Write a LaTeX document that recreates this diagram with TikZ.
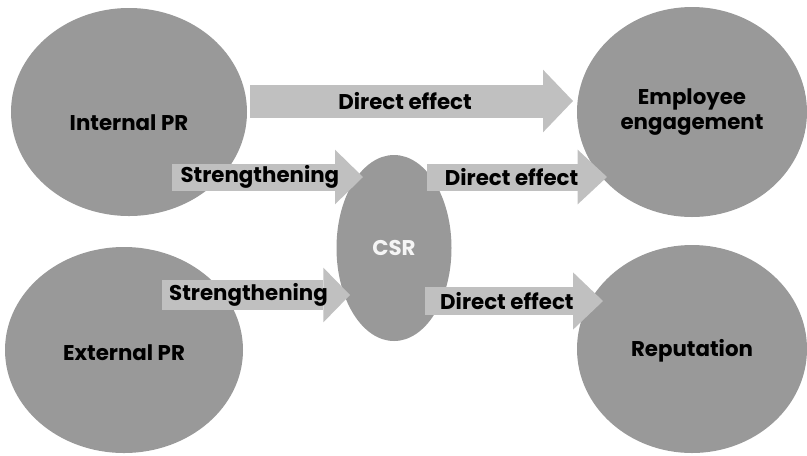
\documentclass[tikz,border=0pt]{standalone}
\usepackage{fontspec}
\setmainfont{Poppins}
\usetikzlibrary{shapes.geometric,arrows.meta}
\begin{document}
\begin{tikzpicture}[x=0.75pt, y=-0.75pt, line cap=butt,
  font=\fontsize{16}{18.5}\selectfont\bfseries,
  blob/.style={ellipse, fill=blobgray, inner sep=0pt, align=center},
  fatarrow/.style={draw=arrowgray, line width=#1*0.75pt},
  lbl/.style={inner sep=0pt, anchor=center}]
  \definecolor{blobgray}{RGB}{153,153,153}
  \definecolor{arrowgray}{RGB}{192,192,192}
  \useasboundingbox (0,0) rectangle (807,455);
  \node[blob, minimum width=236*0.75pt, minimum height=208*0.75pt,
    label={[lbl, yshift=-8pt]center:Internal PR}] (ipr) at (129,112) {};
  \node[blob, minimum width=230*0.75pt, minimum height=210*0.75pt] (eng) at (692,112) {Employee\\engagement};
  \node[blob, minimum width=238*0.75pt, minimum height=206*0.75pt,
    label={[lbl, yshift=-2pt]center:External PR}] (epr) at (124,350) {};
  \node[blob, minimum width=230*0.75pt, minimum height=208*0.75pt,
    label={[lbl, yshift=-1pt]center:Reputation}] (rep) at (692,349) {};
  \node[blob, minimum width=115*0.75pt, minimum height=186*0.75pt, text=white!92!gray] (csr) at (394,248) {CSR};
  \coordinate (a1s) at (250,101);  \coordinate (a1e) at (573,101);
  \coordinate (a2s) at (172,177);  \coordinate (a2e) at (363,177);
  \coordinate (a3s) at (427,177);  \coordinate (a3e) at (607,177);
  \coordinate (a4s) at (162,295);  \coordinate (a4e) at (350,295);
  \coordinate (a5s) at (425,301);  \coordinate (a5e) at (603,301);
  \draw[fatarrow=33, -{Triangle[width=47pt, length=22.5pt, line width=0pt]}]
    (a1s) -- node[lbl, pos=0.48] {Direct effect} (a1e);
  \draw[fatarrow=27, -{Triangle[width=41pt, length=21pt, line width=0pt]}]
    (a2s) -- node[lbl, pos=0.46] {Strengthening} (a2e);
  \draw[fatarrow=27, -{Triangle[width=41pt, length=22pt, line width=0pt]}]
    (a3s) -- node[lbl, pos=0.47] {Direct effect} (a3e);
  \draw[fatarrow=30, -{Triangle[width=41pt, length=20pt, line width=0pt]}]
    (a4s) -- node[lbl, pos=0.46] {Strengthening} (a4e);
  \draw[fatarrow=28, -{Triangle[width=43pt, length=22.5pt, line width=0pt]}]
    (a5s) -- node[lbl, pos=0.46] {Direct effect} (a5e);
\end{tikzpicture}
\end{document}
